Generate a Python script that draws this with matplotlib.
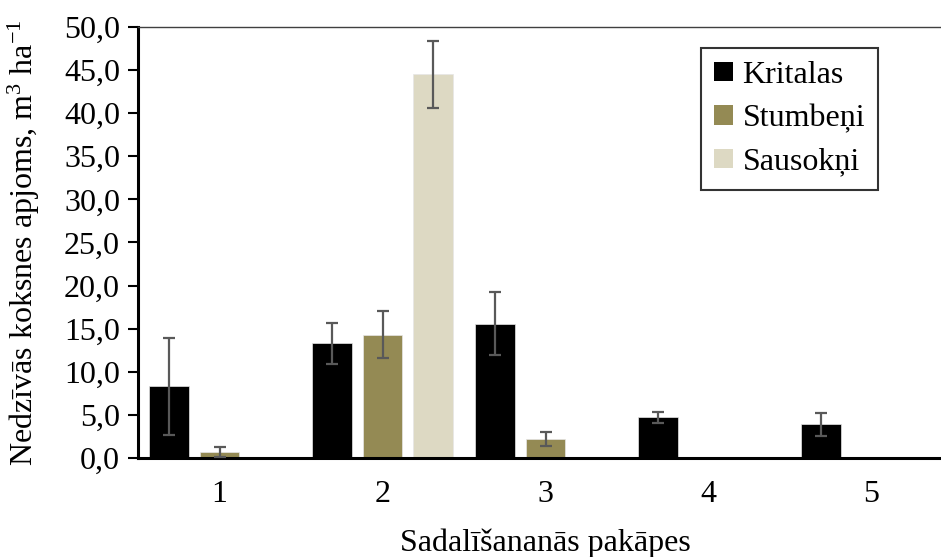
import numpy as np
import matplotlib
matplotlib.use("Agg")
import matplotlib.pyplot as plt
from matplotlib.ticker import FuncFormatter

plt.rcParams['font.family'] = ['Liberation Serif', 'DejaVu Serif']
plt.rcParams['mathtext.fontset'] = 'custom'
plt.rcParams['mathtext.rm'] = 'Liberation Serif'
plt.rcParams['mathtext.it'] = 'Liberation Serif:italic'

# data
categories = ['1', '2', '3', '4', '5']
series_names = ['Kritalas', 'Stumbeņi', 'Sausokņi']
kritalas = [8.3, 13.3, 15.6, 4.7, 3.9]
kritalas_err = [5.6, 2.4, 3.7, 0.6, 1.3]
stumbeni = [0.7, 14.3, 2.2, 0.0, 0.0]
stumbeni_err = [0.6, 2.7, 0.8, 0.0, 0.0]
sausokni = [0.0, 44.5, 0.0, 0.0, 0.0]
sausokni_err = [0.0, 3.85, 0.0, 0.0, 0.0]

colors = ['#000000', '#948A54', '#DDD9C3']
fs = 23

fig = plt.figure(figsize=(9.41, 5.57), dpi=100)
ax = fig.add_axes([138 / 941, 99 / 557, 815 / 941, 431 / 557])

x = np.arange(len(categories))
width = 0.245
step = 0.307
values = [kritalas, stumbeni, sausokni]
errors = [kritalas_err, stumbeni_err, sausokni_err]

for i, (vals, errs, name) in enumerate(zip(values, errors, series_names)):
    pos = x + (i - 1) * step
    ax.bar(pos, vals, width, color=colors[i], edgecolor='#e6e6e6',
           linewidth=0.5, label=name, zorder=2)
    vals = np.array(vals)
    errs = np.array(errs)
    m = errs > 0
    ax.errorbar(pos[m], vals[m], yerr=errs[m], fmt='none', ecolor='#595959',
                elinewidth=1.6, capsize=4.5, capthick=1.6, zorder=3)

ax.set_xlim(-0.5, len(categories) - 0.5)
ax.set_ylim(0, 50)
ax.set_yticks(np.arange(0, 50.1, 5))
ax.yaxis.set_major_formatter(FuncFormatter(lambda v, p: f"{v:.1f}".replace('.', ',')))
ax.set_xticks(x)
ax.set_xticklabels(categories)

ax.tick_params(axis='y', direction='out', length=7, width=1.5, labelsize=fs, pad=6)
ax.tick_params(axis='x', length=0, labelsize=fs, pad=16)

for s in ['left', 'bottom']:
    ax.spines[s].set_linewidth(2.2)
    ax.spines[s].set_color('black')
ax.spines['right'].set_visible(False)
ax.spines['top'].set_color('#404040')
ax.spines['top'].set_linewidth(1.0)

ax.set_xlabel('Sadalīšananās pakāpes', fontsize=fs, labelpad=14)
ax.set_ylabel(r'Nedzīvās koksnes apjoms, m$^{3}$ ha$^{\mathrm{-1}}$', fontsize=fs)
ax.yaxis.set_label_coords(-0.118, 0.5)

leg = ax.legend(loc='upper left', bbox_to_anchor=(701 / 941, 1 - 48 / 557),
                bbox_transform=fig.transFigure, borderaxespad=0, fontsize=fs,
                frameon=True, fancybox=False, edgecolor='black',
                handlelength=0.6, handleheight=0.55, handletextpad=0.3,
                labelspacing=0.45, borderpad=0.4)
leg.get_frame().set_linewidth(1.5)
for h in leg.legend_handles:
    h.set_edgecolor('none')

fig.savefig('out.png', dpi=100)
